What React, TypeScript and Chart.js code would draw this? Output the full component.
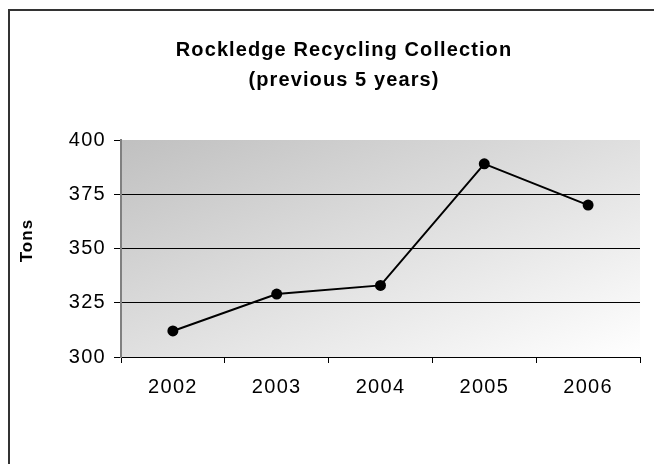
import React, { useEffect, useRef } from 'react';
import { Chart, registerables } from 'chart.js';

Chart.register(...registerables);

const years: string[] = ['2002', '2003', '2004', '2005', '2006'];
const tons: number[] = [312, 329, 333, 389, 370];
const titleLines: string[] = ['Rockledge Recycling Collection', '(previous 5 years)'];
const yAxisTitle = 'Tons';
const yMin = 300;
const yMax = 400;
const yStep = 25;

const FONT = '"Liberation Sans", Arial, Helvetica, sans-serif';

// Excel-like slightly widened text: add letter spacing to every text draw/measure
const textSpacing = {
  id: 'textSpacing',
  beforeInit(chart: any) {
    const ctx: any = chart.ctx;
    const spacingFor = (font: string) =>
      /bold|700/.test(font) ? '1.1px' : '1.3px';
    const origFill = ctx.fillText.bind(ctx);
    const origMeasure = ctx.measureText.bind(ctx);
    ctx.fillText = (t: string, x: number, y: number, mw?: number) => {
      const prev = ctx.letterSpacing;
      ctx.letterSpacing = spacingFor(ctx.font);
      if (mw === undefined || mw === null) origFill(t, x, y);
      else origFill(t, x, y, mw);
      ctx.letterSpacing = prev;
    };
    ctx.measureText = (t: string) => {
      const prev = ctx.letterSpacing;
      ctx.letterSpacing = spacingFor(ctx.font);
      const m = origMeasure(t);
      ctx.letterSpacing = prev;
      return m;
    };
  },
};

const plotBackground = {
  id: 'plotBackground',
  beforeDraw(chart: any) {
    const { ctx, chartArea: a } = chart;
    if (!a) return;
    ctx.save();
    ctx.translate(a.left, a.top);
    ctx.scale(a.right - a.left, a.bottom - a.top);
    const g = ctx.createLinearGradient(0, 0, 1, 1);
    g.addColorStop(0, '#c0c0c0');
    g.addColorStop(1, '#ffffff');
    ctx.fillStyle = g;
    ctx.fillRect(0, 0, 1, 1);
    ctx.restore();
  },
};

// Chart title and value-axis title, placed as in the original Excel chart object
const chartTexts = {
  id: 'chartTexts',
  afterDraw(chart: any) {
    const { ctx, chartArea: a } = chart;
    ctx.save();
    ctx.fillStyle = '#000';
    ctx.textAlign = 'center';
    ctx.textBaseline = 'middle';
    ctx.font = `bold 20px ${FONT}`;
    titleLines.forEach((t, i) => ctx.fillText(t, 344, 50.5 + i * 30));
    ctx.translate(27.5, (a.top + a.bottom) / 2 - 8);
    ctx.rotate(-Math.PI / 2);
    ctx.font = `bold 17px ${FONT}`;
    ctx.fillText(yAxisTitle, 0, 0);
    ctx.restore();
  },
};

export default function App() {
  const canvasRef = useRef<HTMLCanvasElement | null>(null);

  useEffect(() => {
    const canvas = canvasRef.current;
    if (!canvas) return;
    const chart = new Chart(canvas, {
      type: 'line',
      data: {
        labels: years,
        datasets: [
          {
            data: tons,
            borderColor: '#000',
            borderWidth: 2,
            backgroundColor: '#000',
            pointBackgroundColor: '#000',
            pointBorderColor: '#000',
            pointRadius: 5.5,
            pointBorderWidth: 0,
            tension: 0,
            fill: false,
          },
        ],
      },
      options: {
        animation: false,
        responsive: false,
        devicePixelRatio: 1,
        layout: { padding: { left: 10, right: 14, top: 140, bottom: 0 } },
        plugins: {
          legend: { display: false },
          tooltip: { enabled: false },
          title: { display: false },
        },
        scales: {
          x: {
            offset: true,
            grid: {
              offset: true,
              drawOnChartArea: false,
              tickLength: 6,
              tickColor: '#000',
              tickWidth: 1,
            },
            border: { color: '#000', width: 1 },
            ticks: {
              color: '#000',
              font: { family: FONT, size: 20 },
              padding: 12,
              maxRotation: 0,
            },
            afterFit: (s: any) => {
              s.height = 107;
            },
          },
          y: {
            min: yMin,
            max: yMax,
            ticks: {
              stepSize: yStep,
              color: '#000',
              font: { family: FONT, size: 20 },
              padding: 8,
            },
            grid: {
              color: (ctx: any) =>
                ctx.tick && ctx.tick.value === yMax ? 'rgba(0,0,0,0)' : '#000',
              tickColor: '#000',
              tickLength: 7,
              lineWidth: 1,
            },
            border: { color: '#808080', width: 2 },
            afterFit: (s: any) => {
              s.width = 111;
            },
          },
        },
      },
      plugins: [textSpacing, plotBackground, chartTexts],
    });
    return () => chart.destroy();
  }, []);

  return (
    <div
      style={{
        position: 'fixed',
        left: 0,
        top: 0,
        width: 654,
        height: 464,
        overflow: 'hidden',
        background: '#fff',
      }}
    >
      <div
        style={{
          position: 'absolute',
          left: 8,
          top: 9,
          width: 800,
          height: 600,
          borderLeft: '2px solid #333',
          borderTop: '2px solid #333',
        }}
      />
      <canvas
        ref={canvasRef}
        width={654}
        height={464}
        style={{ position: 'absolute', left: 0, top: 0, width: 654, height: 464 }}
      />
    </div>
  );
}
